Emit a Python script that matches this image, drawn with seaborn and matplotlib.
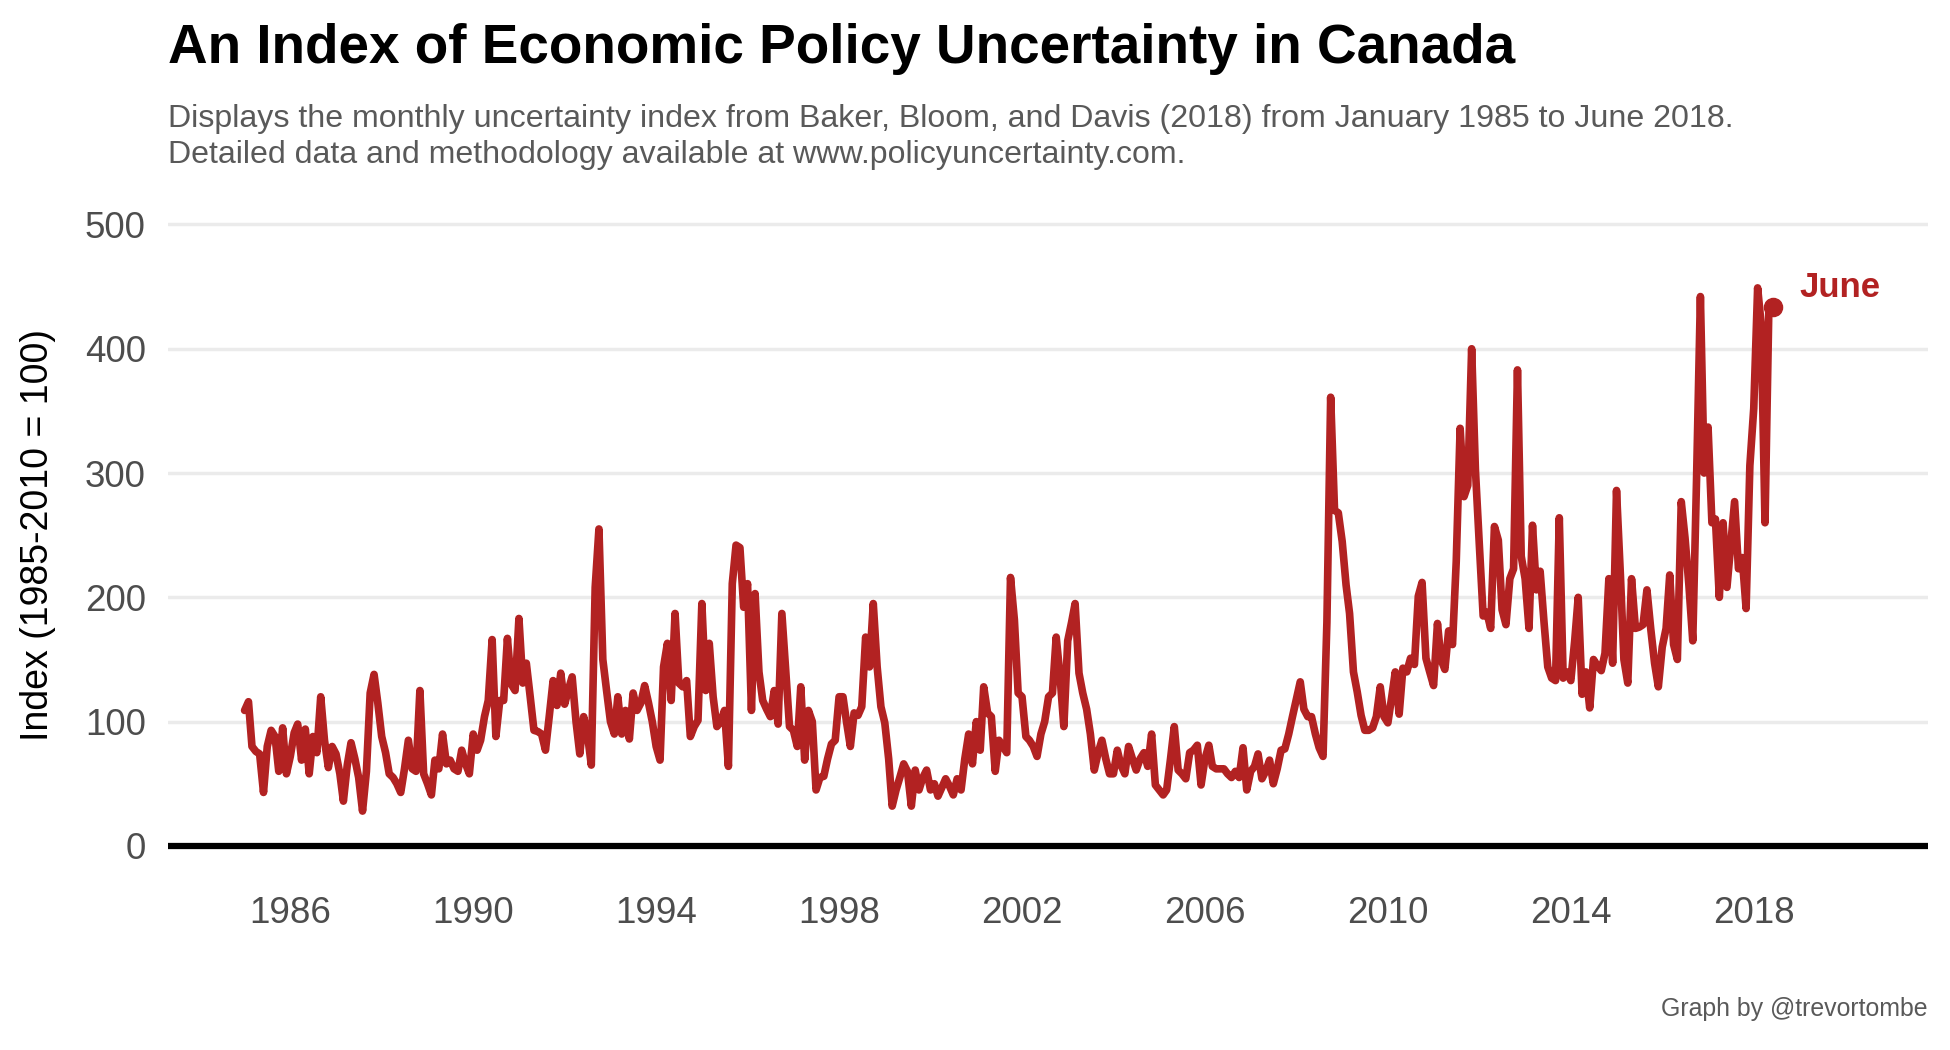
import pandas as pd
import matplotlib
matplotlib.use("Agg")
import matplotlib.pyplot as plt
import matplotlib.dates as mdates
import seaborn as sns

# ------------------------------------------------------------------
# Data: monthly EPU index for Canada, Jan 1985 - Jun 2018
# ------------------------------------------------------------------
start_month = "1985-01-01"

epu_index = [
    109, 116, 80, 76, 74, 43, 80, 93, 88, 60, 95, 58,          # 1985
    72, 91, 98, 69, 94, 58, 88, 75, 120, 85, 63, 80,           # 1986
    74, 58, 36, 65, 83, 70, 55, 28, 60, 123, 138, 115,         # 1987
    88, 75, 58, 55, 50, 43, 62, 85, 62, 60, 125, 58,           # 1988
    50, 41, 69, 62, 90, 66, 69, 62, 60, 77, 66, 58,            # 1989
    90, 77, 85, 104, 117, 166, 88, 117, 117, 167, 130, 125,    # 1990
    183, 131, 147, 120, 93, 92, 90, 77, 105, 133, 113, 139,    # 1991
    114, 126, 136, 100, 74, 104, 90, 65, 208, 255, 150, 125,   # 1992
    100, 90, 120, 90, 109, 86, 123, 109, 115, 129, 115, 100,   # 1993
    80, 69, 144, 163, 117, 187, 131, 128, 133, 88, 96, 101,    # 1994
    195, 125, 163, 120, 96, 100, 109, 64, 211, 242, 240, 192,  # 1995
    211, 109, 203, 140, 117, 110, 104, 125, 98, 187, 141, 96,  # 1996
    93, 80, 128, 69, 109, 100, 45, 55, 56, 70, 82, 85,         # 1997
    120, 120, 100, 80, 107, 105, 112, 168, 144, 195, 144, 112, # 1998
    99, 70, 32, 45, 55, 66, 60, 32, 61, 45, 55, 61,            # 1999
    45, 50, 40, 47, 54, 48, 41, 54, 45, 70, 90, 66,            # 2000
    100, 77, 128, 107, 104, 60, 85, 80, 75, 216, 182, 123,     # 2001
    120, 88, 85, 80, 72, 90, 100, 120, 123, 168, 136, 96,      # 2002
    165, 180, 195, 139, 123, 110, 90, 61, 75, 85, 70, 58,      # 2003
    58, 77, 65, 58, 80, 70, 61, 70, 75, 64, 90, 49,            # 2004
    45, 41, 45, 70, 96, 61, 58, 54, 75, 77, 81, 49,            # 2005
    70, 81, 64, 62, 62, 62, 58, 55, 60, 55, 79, 45,            # 2006
    60, 64, 74, 54, 60, 69, 50, 62, 77, 78, 90, 104,           # 2007
    118, 132, 110, 104, 104, 90, 79, 72, 180, 361, 270, 268,   # 2008
    245, 210, 187, 140, 124, 105, 93, 93, 95, 104, 128, 104,   # 2009
    99, 120, 140, 106, 143, 140, 151, 146, 201, 212, 151, 140, # 2010
    129, 179, 150, 142, 173, 162, 229, 336, 281, 290, 400, 303,# 2011
    243, 185, 188, 175, 257, 246, 190, 178, 215, 223, 383, 233,# 2012
    215, 175, 258, 206, 221, 180, 144, 135, 133, 264, 135, 140,# 2013
    133, 165, 200, 122, 140, 111, 150, 145, 141, 155, 215, 147,# 2014
    286, 218, 150, 131, 215, 175, 176, 178, 206, 175, 147, 128,# 2015
    160, 175, 218, 162, 150, 277, 248, 210, 165, 294, 442, 300,# 2016
    337, 260, 263, 200, 260, 208, 242, 277, 223, 232, 191, 306,# 2017
    352, 449, 420, 260, 429, 434,                              # 2018 (Jan-Jun)
]

tick_years = [1986, 1990, 1994, 1998, 2002, 2006, 2010, 2014, 2018]
y_ticks = [0, 100, 200, 300, 400, 500]

title = "An Index of Economic Policy Uncertainty in Canada"
subtitle_1 = ("Displays the monthly uncertainty index from Baker, Bloom, and Davis (2018) "
              "from January 1985 to June 2018.")
subtitle_2 = "Detailed data and methodology available at www.policyuncertainty.com."
y_title = "Index (1985-2010 = 100)"
caption = "Graph by @trevortombe"
end_label = "June"

df = pd.DataFrame({
    "date": pd.date_range(start_month, periods=len(epu_index), freq="MS"),
    "epu": epu_index,
})

# ------------------------------------------------------------------
# Style
# ------------------------------------------------------------------
sns.set_style("white")
plt.rcParams["font.family"] = ["Liberation Sans", "DejaVu Sans"]

line_col = "#B22222"
grid_col = "#EBEBEB"
text_grey = "#4D4D4D"

fig = plt.figure(figsize=(19.5, 10.5), dpi=100)
ax = fig.add_axes([0.0862, 0.1648, 0.9026, 0.651])

sns.lineplot(data=df, x="date", y="epu", color=line_col, linewidth=5.5, ax=ax,
             solid_joinstyle="round", solid_capstyle="round")

# end point + label
last = df.iloc[-1]
ax.scatter([last["date"]], [last["epu"]], s=170, color=line_col, zorder=5)
ax.text(last["date"] + pd.DateOffset(months=7), 449, end_label, color=line_col,
        fontsize=25, fontweight="bold", va="center", ha="left")

# zero baseline
ax.axhline(0, color="black", linewidth=4.5, zorder=3)

ax.set_ylim(-25, 525)
ax.set_xlim(pd.Timestamp("1983-05-01"), pd.Timestamp("2021-10-25"))
ax.set_yticks(y_ticks)
ax.set_xticks([pd.Timestamp(f"{y}-01-01") for y in tick_years])
ax.xaxis.set_major_formatter(mdates.DateFormatter("%Y"))

ax.yaxis.grid(True, color=grid_col, linewidth=2.5)
ax.xaxis.grid(False)
ax.set_axisbelow(True)
for s in ax.spines.values():
    s.set_visible(False)
ax.tick_params(axis="both", length=0, labelsize=26.5, labelcolor=text_grey)
ax.tick_params(axis="y", pad=16)
ax.tick_params(axis="x", pad=14)

ax.set_xlabel("")
ax.set_ylabel(y_title, fontsize=27, color="black")
ax.yaxis.set_label_coords(-0.0636, 0.5)

# titles and caption
fig.text(0.0862, 0.94, title, fontsize=39.5, fontweight="bold", color="black", va="baseline")
fig.text(0.0862, 0.879, subtitle_1, fontsize=23.1, color="#595959", va="baseline")
fig.text(0.0862, 0.845, subtitle_2, fontsize=23.1, color="#595959", va="baseline")
fig.text(0.9887, 0.0324, caption, fontsize=17.9, color="#595959", ha="right", va="baseline")

fig.savefig("out.png", dpi=100)
